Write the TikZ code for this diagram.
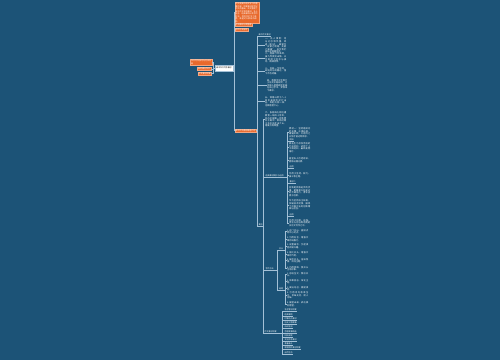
\documentclass[tikz,border=0pt]{standalone}
\usepackage{fontspec}
\newfontfamily\cjk{Noto Sans CJK SC}
\XeTeXlinebreaklocale "zh"
\XeTeXlinebreakskip=0pt plus 0.5pt
\definecolor{bgc}{HTML}{1C5377}
\definecolor{orng}{HTML}{E8692C}
\definecolor{lnc}{HTML}{A3C0D6}
\tikzset{
 conn/.style={draw=lnc, line width=0.55pt},
 obox/.style={fill=orng, draw=orng!60!white, line width=0.3pt, text=white, font=\cjk\fontsize{2}{2.5}\selectfont, inner xsep=0.8pt, inner ysep=0.5pt, align=left},
 rootbox/.style={fill=white, draw=lnc, line width=0.3pt, text=black, font=\cjk\fontsize{1.9}{2.4}\selectfont, minimum width=18pt, minimum height=6pt, inner sep=0.5pt},
 blk/.style={text=white, font=\cjk\fontsize{2.2}{2.6}\selectfont, text width=#1, align=justify, inner sep=0pt, anchor=west},
 blk/.default=21pt,
 lbl/.style={text=white, font=\cjk\fontsize{2}{2.4}\selectfont, inner xsep=0.3pt, inner ysep=0.4pt, anchor=south west},
}
\begin{document}
\begin{tikzpicture}[x=1pt,y=-1pt]
\fill[bgc] (0,0) rectangle (500,360);
\useasboundingbox (0,0) rectangle (500,360);
% root
\node[rootbox] (root) at (224,68) {高中作文写作素材};
% left
\node[obox, text width=20pt] (l1) at (201,62) {作文写作技巧与方法总结};
\node[obox] (l2) at (204,69) {高考满分作文};
\node[obox] (l3) at (204.5,73.5) {作文素材积累};
\coordinate (lb) at (213.6,68);
\draw[conn] (root.west) -- (lb) |- (l1.east);
\draw[conn] (lb) |- (l2.east);
\draw[conn] (lb) |- (l3.east);
% right
\node[obox, text width=22.5pt, anchor=west] (r1) at (234.5,12.5) {作文是高中语文学习的重要内容，积累素材是写好作文的基础。本文整理了高中作文常用素材、名人名言、经典事例以及写作方法，供同学们学习参考，希望对大家有所帮助。};
\node[obox, anchor=west] (r2) at (234.5,24.5) {作文素材分类整理};
\node[obox, anchor=west] (r3) at (234.5,29.5) {写作方法指导};
\node[obox, anchor=west] (r4) at (234.5,130.5) {高中作文素材精选汇总};
\coordinate (rb) at (233.8,68);
\draw[conn] (root.east) -- (rb) |- (r1.west);
\draw[conn] (rb) |- (r2.west);
\draw[conn] (rb) |- (r3.west);
\draw[conn] (rb) |- (r4.west);
% level 2 under r4
\coordinate (t2) at (257,130.5);
\node[lbl] (h) at (258,36.5) {高中作文素材};
\node[blk] (b1) at (265,45.5) {一、名人事例：司马迁忍辱负重，终成《史记》，被誉为“史家之绝唱，无韵之离骚”，启示我们身处逆境要坚持。};
\node[blk] (b2) at (265,58) {二、屈原行吟泽畔，虽九死其犹未悔，以生命捍卫信念与操守，精神流传。};
\node[blk] (b3) at (265,71) {三、苏轼一生坎坷，却始终乐观豁达，留下不朽诗篇。};
\node[blk, text width=20pt] (b4) at (267,85.5) {四、袁隆平毕生致力于杂交水稻研究，让中国人把饭碗牢牢端在自己手中，梦想禾下乘凉。};
\node[blk] (b5) at (265,101.5) {五、钟南山院士八十四岁高龄仍逆行出征，奔赴抗疫一线，诠释医者仁心。};
\node[lbl] (x) at (258,226.5) {其他};
\draw[conn] (r4.east) -- (t2) |- (h.south west);
\foreach \n in {b1,b2,b3,b4,b5} \draw[conn] (t2) |- (\n.west);
\draw[conn] (t2) |- (x.south west);
% children of x
\coordinate (t3) at (263,226.5);
\node[blk] (b6) at (265,119.5) {六、张桂梅扎根边疆教育一线四十余年，创办全国第一所免费女子高中，帮助近两千名女孩走出大山，用爱点亮希望。};
\node[lbl] (n1) at (265,177.5) {经典素材摘抄与运用};
\node[lbl] (n2) at (265,270.5) {写作方法};
\node[lbl] (n3) at (264,333.5) {作文素材积累};
\draw[conn] (x.south east) -- (t3) |- (b6.west);
\draw[conn] (t3) |- (n1.south west);
\draw[conn] (t3) |- (n2.south west);
\draw[conn] (t3) |- (n3.south west);
% children of n1
\coordinate (t4) at (287,177.5);
\node[blk] (c1) at (289,132.5) {素材一：坚持是成功的关键，水滴石穿，绳锯木断，只有持之以恒才能达到目标。};
\node[lbl] (c2) at (289,141) {例如};
\node[blk] (c3) at (289,147.5) {爱迪生为寻找合适的灯丝材料，试验了上千种材料，最终发明电灯。};
\node[blk] (c4) at (289,160) {居里夫人历经艰辛，提炼出镭元素。};
\node[lbl] (c5) at (289,168) {运用};
\node[blk] (c6) at (289,175) {可用于坚持、毅力、奋斗等主题。};
\node[lbl] (c7) at (289,183) {素材二};
\node[blk] (c8) at (289,191.5) {创新是民族进步的灵魂，是国家兴旺发达的不竭动力，青年应勇于创新。};
\node[blk] (c9) at (289,205) {华为坚持自主研发，突破技术封锁，展现了中国企业的创新精神与担当。};
\node[lbl] (c10) at (289,216) {运用};
\node[blk] (c11) at (289,223) {可用于创新、自强、责任与担当等话题的议论文写作之中。};
\draw[conn] (n1.south east) -- (t4);
\foreach \n in {c1,c3,c4,c6,c8,c9,c11} \draw[conn] (t4) |- (\n.west);
\foreach \n in {c2,c5,c7,c10} \draw[conn] (t4) |- (\n.south west);
% children of n2
\coordinate (t5) at (277.5,270.5);
\node[lbl] (p1) at (278.5,250.5) {开头};
\node[lbl] (p2) at (278.5,290) {结尾};
\draw[conn] (n2.south east) -- (t5) |- (p1.south west);
\draw[conn] (t5) |- (p2.south west);
\coordinate (t6) at (285.5,250.5);
\node[blk] (d1) at (287,231.5) {1.开门见山，直接点明中心论点。};
\node[blk] (d2) at (287,239) {2.引用名言，增强文章的说服力。};
\node[blk] (d3) at (287,246) {3.设置悬念，引起读者阅读兴趣。};
\node[blk] (d4) at (287,254) {4.排比开头，增强文章的气势。};
\node[blk] (d5) at (287,260.5) {5.描写开头，渲染氛围，烘托主题。};
\node[blk] (d6) at (287,268.5) {6.巧用修辞，使开头生动形象。};
\draw[conn] (p1.south east) -- (t6);
\foreach \n in {d1,d2,d3,d4,d5,d6} \draw[conn] (t6) |- (\n.west);
\coordinate (t7) at (285.5,290);
\node[blk] (e1) at (287,274.5) {1.总结全文，照应开头。};
\node[blk] (e2) at (287,281.5) {2.卒章显志，深化主题。};
\node[blk] (e3) at (287,288.5) {3.发出号召，激励读者。};
\node[blk] (e4) at (287,295.5) {4.引用诗句收束全文，余味无穷，耐人寻味。};
\node[blk] (e5) at (287,304) {5.展望未来，表达美好愿望。};
\draw[conn] (p2.south east) -- (t7);
\foreach \n in {e1,e2,e3,e4,e5} \draw[conn] (t7) |- (\n.west);
% children of n3
\coordinate (t8) at (282,333.5);
\node[lbl] (f1) at (284,311.5) {名言警句积累};
\node[lbl] (f2) at (284,316) {经典事例};
\node[lbl] (f3) at (284,320.5) {时事热点素材};
\node[lbl] (f4) at (284,324.5) {历史人物故事};
\node[lbl] (f5) at (284,328.5) {诗词名句};
\node[lbl] (f6) at (284,333.5) {哲理故事精选};
\node[lbl] (f7) at (284,337.5) {科技成就};
\node[lbl] (f8) at (284,341.5) {文化传承素材};
\node[lbl] (f9) at (284,345.5) {青春奋斗};
\node[lbl] (f10) at (284,349.5) {家国情怀素材积累};
\node[lbl] (f11) at (284,354.5) {自然生态};
\draw[conn] (n3.south east) -- (t8);
\foreach \n in {f1,f2,f3,f4,f5,f6,f7,f8,f9,f10,f11} \draw[conn] (t8) |- (\n.south west);
% underlines
\foreach \n in {h,x,n1,n2,n3,p1,p2,c2,c5,c7,c10,f1,f2,f3,f4,f5,f6,f7,f8,f9,f10,f11}
  \draw[conn, line width=0.4pt] (\n.south west) -- (\n.south east);
\end{tikzpicture}
\end{document}
